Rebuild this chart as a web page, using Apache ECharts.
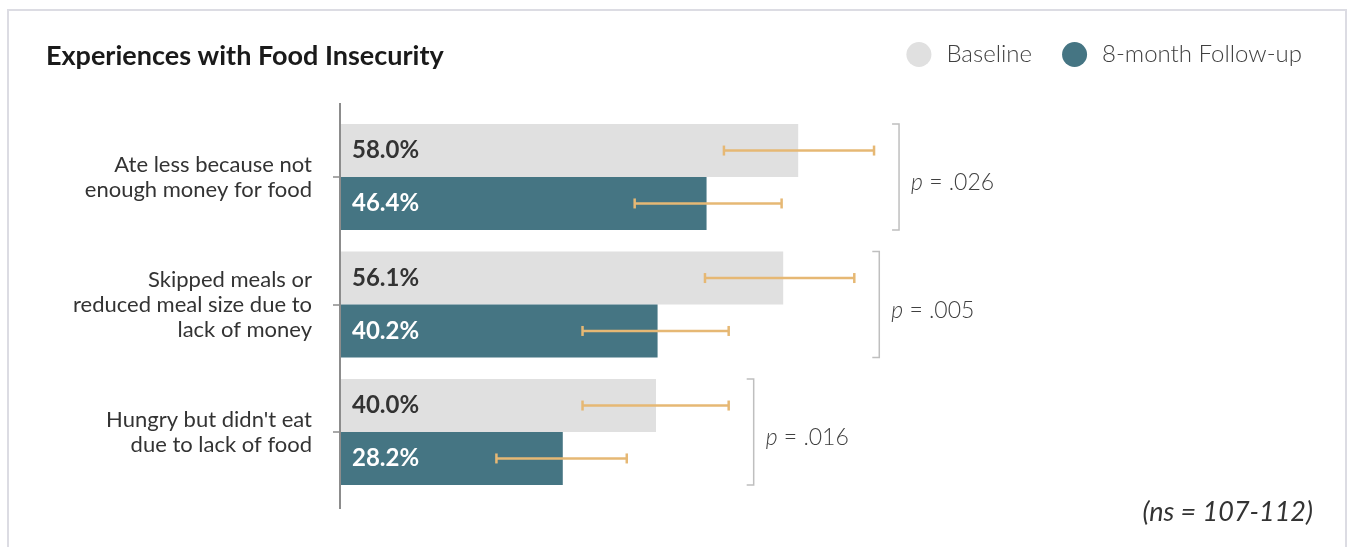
<!DOCTYPE html>
<html>
<head>
<meta charset="utf-8">
<title>Experiences with Food Insecurity</title>
<script src="https://cdn.jsdelivr.net/npm/echarts@6/dist/echarts.min.js"></script>
<style>
  html, body { margin: 0; padding: 0; background: #ffffff; }
  #chart { width: 1351px; height: 547px; }
</style>
</head>
<body>
<div id="chart"></div>
<script>
// Survey items (top to bottom)
const categories = [
  'Ate less because not\nenough money for food',
  'Skipped meals or\nreduced meal size due to\nlack of money',
  "Hungry but didn't eat\ndue to lack of food"
];
const seriesNames = ['Baseline', '8-month Follow-up'];

// Percent reporting each experience
const baseline = [58.0, 56.1, 40.0];
const followUp = [46.4, 40.2, 28.2];

// 95% confidence intervals [low, high]
const baselineCI = [[48.6, 67.6], [46.2, 65.1], [30.7, 49.2]];
const followUpCI = [[37.3, 55.9], [30.7, 49.2], [19.8, 36.3]];

// Paired comparison p-values
const pValues = ['.026', '.005', '.016'];

const sampleNote = '(ns = 107-112)';

// Layout constants
const GRID_LEFT = 340;
const GRID_TOP = 113.25;
const GRID_HEIGHT = 382.5;
const GRID_WIDTH = 790;
const CAT_GAP = 0.17;          // share of the band left empty
const BRACKET_OFFSET = 25;     // px to the right of the widest interval

const COLOR_BASE = '#e0e0e0';
const COLOR_FOLLOW = '#457583';
const COLOR_ERR = '#e6b874';
const COLOR_BRACKET = '#bfbfbf';
const TEXT_DARK = '#333333';
const FONT = 'Lato, "Open Sans", "Noto Sans", sans-serif';

const chart = echarts.init(document.getElementById('chart'), null, { renderer: 'canvas' });

// Error-bar rows: [category index, low, high, group slot]
const errData = [];
baselineCI.forEach((ci, i) => errData.push([i, ci[0], ci[1], 0]));
followUpCI.forEach((ci, i) => errData.push([i, ci[0], ci[1], 1]));

// Bracket rows: [category index, widest upper bound]
const bracketData = pValues.map((p, i) =>
  [i, Math.max(baselineCI[i][1], followUpCI[i][1])]);

function barSlotHeight(api) {
  const band = api.size([0, 1])[1];
  return band * (1 - CAT_GAP) / 2;
}

function renderErr(params, api) {
  const cat = api.value(0);
  const lo = api.coord([api.value(1), cat]);
  const hi = api.coord([api.value(2), cat]);
  const slot = barSlotHeight(api);
  const y = lo[1] + (api.value(3) === 0 ? -slot / 2 : slot / 2);
  const cap = 5;
  const style = { stroke: COLOR_ERR, lineWidth: 2.5 };
  return {
    type: 'group',
    children: [
      { type: 'line', shape: { x1: lo[0], y1: y, x2: hi[0], y2: y }, style },
      { type: 'line', shape: { x1: lo[0], y1: y - cap, x2: lo[0], y2: y + cap }, style },
      { type: 'line', shape: { x1: hi[0], y1: y - cap, x2: hi[0], y2: y + cap }, style }
    ]
  };
}

function renderBracket(params, api) {
  const cat = api.value(0);
  const pt = api.coord([api.value(1), cat]);
  const slot = barSlotHeight(api);
  const x = pt[0] + BRACKET_OFFSET;
  const y0 = pt[1] - slot;
  const y1 = pt[1] + slot;
  const style = { stroke: COLOR_BRACKET, lineWidth: 1.5, fill: null };
  return {
    type: 'group',
    children: [
      { type: 'polyline', shape: { points: [[x - 7, y0], [x, y0], [x, y1], [x - 7, y1]] }, style },
      {
        type: 'text',
        x: x + 12,
        y: pt[1] + 6,
        style: {
          text: '{p|p} = ' + pValues[params.dataIndex],
          rich: {
            p: { fontStyle: 'italic', fontSize: 23, fontFamily: FONT, fontWeight: 300, fill: '#404040' }
          },
          fontSize: 23,
          fontFamily: FONT,
          fontWeight: 300,
          fill: '#404040',
          verticalAlign: 'middle',
          align: 'left'
        }
      }
    ]
  };
}

const option = {
  animation: false,
  backgroundColor: '#ffffff',
  title: {
    text: 'Experiences with Food Insecurity',
    left: 41,
    top: 38,
    textStyle: { fontFamily: FONT, fontWeight: 'bold', fontSize: 27, color: '#1a1a1a' }
  },
  legend: {
    data: seriesNames,
    right: 44,
    top: 37,
    icon: 'circle',
    itemWidth: 25,
    itemHeight: 25,
    itemGap: 30,
    textStyle: {
      fontFamily: FONT, fontSize: 24, fontWeight: 300, color: '#404040',
      padding: [0, 0, 0, 10]
    }
  },
  grid: { left: GRID_LEFT, top: GRID_TOP, width: GRID_WIDTH, height: GRID_HEIGHT },
  xAxis: {
    type: 'value',
    min: 0,
    max: 100,
    show: false
  },
  yAxis: {
    type: 'category',
    data: categories,
    inverse: true,
    axisLine: { show: false },
    axisTick: { show: true, alignWithLabel: true, length: 7, lineStyle: { color: '#8c8c8c', width: 1.5 } },
    axisLabel: {
      margin: 28,
      fontFamily: FONT,
      fontSize: 22,
      lineHeight: 25,
      color: TEXT_DARK,
      align: 'right'
    }
  },
  series: [
    {
      name: seriesNames[0],
      type: 'bar',
      data: baseline,
      barGap: '0%',
      barCategoryGap: (CAT_GAP * 100) + '%',
      itemStyle: { color: COLOR_BASE },
      label: {
        show: true, position: 'insideLeft', distance: 12,
        formatter: p => p.value.toFixed(1) + '%',
        fontFamily: FONT, fontWeight: 'bold', fontSize: 24, color: TEXT_DARK
      },
      z: 2
    },
    {
      name: seriesNames[1],
      type: 'bar',
      data: followUp,
      barGap: '0%',
      barCategoryGap: (CAT_GAP * 100) + '%',
      itemStyle: { color: COLOR_FOLLOW },
      label: {
        show: true, position: 'insideLeft', distance: 12,
        formatter: p => p.value.toFixed(1) + '%',
        fontFamily: FONT, fontWeight: 'bold', fontSize: 24, color: '#ffffff'
      },
      z: 2
    },
    {
      type: 'custom',
      renderItem: renderErr,
      data: errData,
      encode: { x: [1, 2], y: 0 },
      silent: true,
      z: 5
    },
    {
      type: 'custom',
      renderItem: renderBracket,
      data: bracketData,
      encode: { x: 1, y: 0 },
      silent: true,
      z: 5
    }
  ],
  graphic: [
    // panel frame
    {
      type: 'rect',
      shape: { x: 8, y: 10, width: 1338, height: 560 },
      style: { fill: null, stroke: '#dcdce3', lineWidth: 2 },
      silent: true, z: 0
    },
    // vertical category axis line
    {
      type: 'line',
      shape: { x1: GRID_LEFT, y1: 103, x2: GRID_LEFT, y2: 509 },
      style: { stroke: '#8c8c8c', lineWidth: 2 },
      silent: true, z: 10
    },
    {
      type: 'text',
      right: 38,
      top: 499,
      style: {
        text: sampleNote,
        fontFamily: FONT, fontStyle: 'italic', fontSize: 27, fill: TEXT_DARK
      }
    }
  ]
};

chart.setOption(option);
</script>
</body>
</html>
